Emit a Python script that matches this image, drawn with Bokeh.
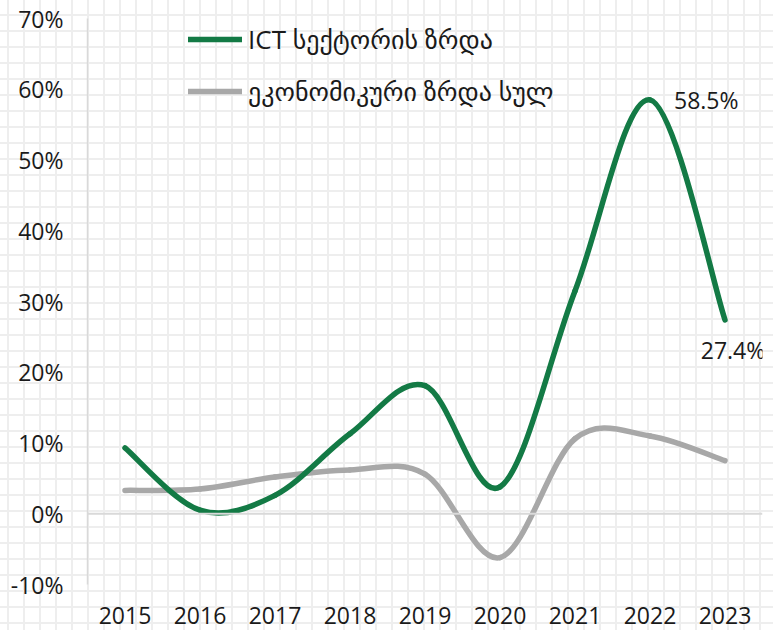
from bokeh.plotting import figure
from bokeh.models import (Range1d, FixedTicker, PrintfTickFormatter, Span,
                          Legend, LegendItem, Label, ColumnDataSource)
from bokeh.embed import file_html
from bokeh.resources import INLINE

# ---- data ----
years = [2015, 2016, 2017, 2018, 2019, 2020, 2021, 2022, 2023]
ict_growth = [9.3, 0.5, 2.6, 11.3, 18.1, 3.8, 31.5, 58.5, 27.4]
economy_growth = [3.3, 3.5, 5.2, 6.2, 5.6, -6.2, 10.6, 11.0, 7.5]
y_ticks = [-10, 0, 10, 20, 30, 40, 50, 60, 70]
series_names = ["ICT სექტორის ზრდა", "ეკონომიკური ზრდა სულ"]

GREEN = "#137a45"
GRAY = "#a8a8a8"
FONT = "Open Sans, DejaVu Sans"
TXT = "#1a1a1a"
FS = "23px"


def bezier_source(xs, ys, t=1.0 / 6.0):
    n = len(xs)
    d = {k: [] for k in ("x0", "y0", "x1", "y1", "cx0", "cy0", "cx1", "cy1")}
    for i in range(n - 1):
        ip = max(i - 1, 0)
        inx = min(i + 2, n - 1)
        d["x0"].append(xs[i]); d["y0"].append(ys[i])
        d["x1"].append(xs[i + 1]); d["y1"].append(ys[i + 1])
        d["cx0"].append(xs[i] + (xs[i + 1] - xs[ip]) * t)
        d["cy0"].append(ys[i] + (ys[i + 1] - ys[ip]) * t)
        d["cx1"].append(xs[i + 1] - (xs[inx] - xs[i]) * t)
        d["cy1"].append(ys[i + 1] - (ys[inx] - ys[i]) * t)
    return ColumnDataSource(d)


p = figure(width=773, height=630,
           x_range=Range1d(years[0] - 0.5, years[-1] + 0.5),
           y_range=Range1d(y_ticks[0], y_ticks[-1]),
           output_backend="svg", toolbar_location=None,
           min_border_left=87, min_border_right=11,
           min_border_top=18, min_border_bottom=46)

p.background_fill_color = None
p.border_fill_color = None
p.outline_line_color = None
p.grid.visible = False

# axes
p.xaxis.ticker = FixedTicker(ticks=years)
p.xaxis.axis_line_color = None
p.xaxis.major_tick_out = 0
p.xaxis.major_tick_in = 0
p.xaxis.minor_tick_out = 0
p.xaxis.minor_tick_in = 0
p.xaxis.major_label_standoff = 22
p.xaxis.major_label_text_font_size = FS
p.xaxis.major_label_text_font = FONT
p.xaxis.major_label_text_color = TXT

p.yaxis.ticker = FixedTicker(ticks=y_ticks)
p.yaxis.formatter = PrintfTickFormatter(format="%d%%")
p.yaxis.axis_line_color = "#d9d9d9"
p.yaxis.axis_line_width = 1.5
p.yaxis.major_tick_out = 0
p.yaxis.major_tick_in = 0
p.yaxis.minor_tick_out = 0
p.yaxis.minor_tick_in = 0
p.yaxis.major_label_standoff = 24
p.yaxis.major_label_text_font_size = FS
p.yaxis.major_label_text_font = FONT
p.yaxis.major_label_text_color = TXT

p.add_layout(Span(location=0, dimension="width", line_color="#d9d9d9", line_width=2))

# curves
r_eco = p.bezier(x0="x0", y0="y0", x1="x1", y1="y1", cx0="cx0", cy0="cy0", cx1="cx1", cy1="cy1",
                 source=bezier_source(years, economy_growth), line_color=GRAY, line_width=5.5,
                 line_cap="round")
r_ict = p.bezier(x0="x0", y0="y0", x1="x1", y1="y1", cx0="cx0", cy0="cy0", cx1="cx1", cy1="cy1",
                 source=bezier_source(years, ict_growth), line_color=GREEN, line_width=5.5,
                 line_cap="round")

legend = Legend(items=[LegendItem(label=series_names[0], renderers=[r_ict]),
                       LegendItem(label=series_names[1], renderers=[r_eco])],
                location=(101, 475), orientation="vertical",
                glyph_width=54, glyph_height=20, label_height=20, label_standoff=6,
                spacing=16, padding=0, margin=0,
                border_line_alpha=0, background_fill_alpha=0,
                label_text_font_size="26px", label_text_font=FONT,
                label_text_color=TXT)
p.add_layout(legend)

# value labels
i22 = years.index(2022)
i23 = years.index(2023)
p.add_layout(Label(x=years[i22], y=ict_growth[i22], text=f"{ict_growth[i22]}%",
                   x_offset=24, text_align="left", text_baseline="middle",
                   text_font_size=FS, text_font=FONT, text_color=TXT))
p.add_layout(Label(x=years[i23], y=ict_growth[i23], text=f"{ict_growth[i23]}%",
                   x_offset=8, y_offset=-14, text_align="center", text_baseline="top",
                   text_font_size=FS, text_font=FONT, text_color=TXT))

html = file_html(p, INLINE)
css = ("<style>html,body{background-color:#ffffff;"
       "background-image:linear-gradient(to right,#eeeeee 2px,transparent 2px),"
       "linear-gradient(to bottom,#eeeeee 2px,transparent 2px);"
       "background-size:16px 16px;background-position:7px 14px;}</style>")
html = html.replace("</head>", css + "</head>", 1)
open("out.html", "w").write(html)
